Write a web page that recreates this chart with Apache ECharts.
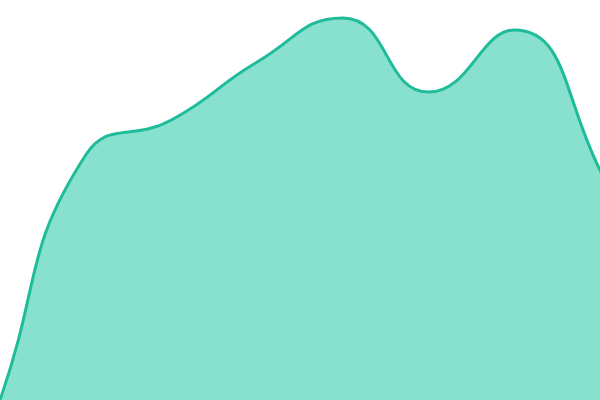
<!DOCTYPE html>
<html>
<head>
<meta charset="utf-8">
<style>
  html, body { margin: 0; padding: 0; background: #fff; }
  #main { width: 600px; height: 400px; }
</style>
<script src="https://cdn.jsdelivr.net/npm/echarts@6/dist/echarts.min.js"></script>
</head>
<body>
<div id="main"></div>
<script>
// values (height above the bottom edge, 0..400);
// the first and last points sit just outside the visible area
const categories = ['A', 'B', 'C', 'D', 'E', 'F', 'G', 'H', 'I', 'J'];
const values = [-250, 0, 245, 280, 338, 382, 308, 370, 230, 30];

const chart = echarts.init(document.getElementById('main'));
chart.setOption({
  animation: false,
  grid: { left: 0, right: 0, top: 0, bottom: 0 },
  xAxis: {
    type: 'category',
    data: categories,
    boundaryGap: false,
    min: 1,
    max: 8,
    show: false
  },
  yAxis: {
    type: 'value',
    min: 0,
    max: 400,
    show: false
  },
  series: [{
    type: 'line',
    data: values,
    smooth: true,
    symbol: 'none',
    lineStyle: { color: '#1fbc99', width: 3 },
    areaStyle: { color: '#88e0cf', opacity: 1 }
  }]
});
</script>
</body>
</html>
